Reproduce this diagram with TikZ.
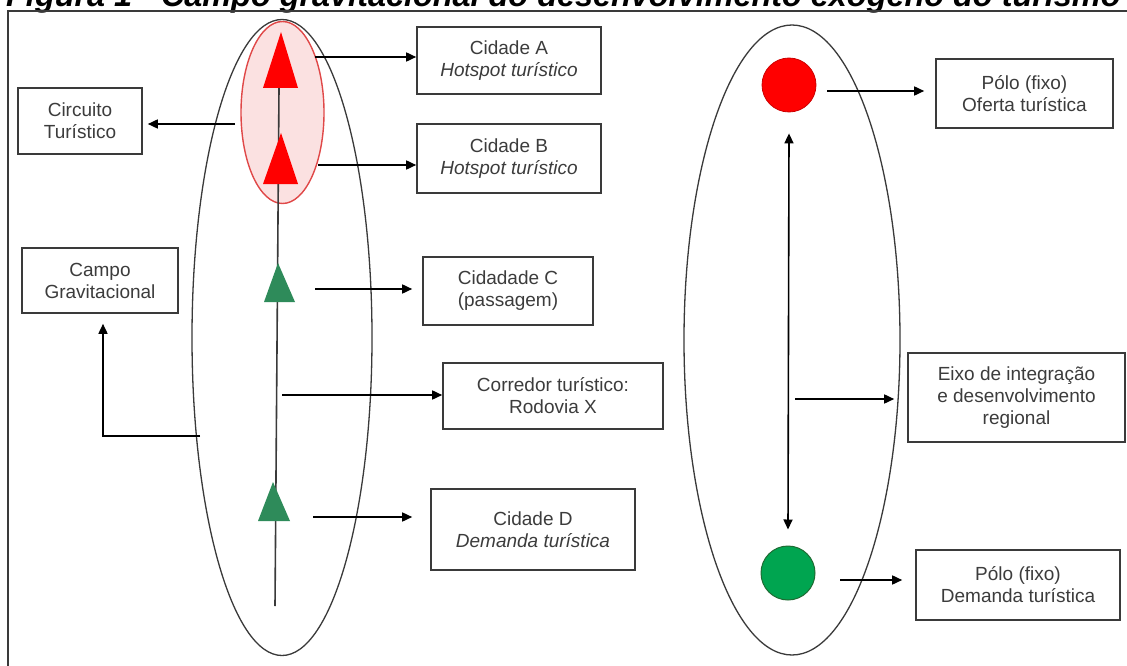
\documentclass[tikz,border=0pt]{standalone}
\usepackage{fontspec}
\setmainfont{Liberation Sans}
\usetikzlibrary{arrows.meta}
\definecolor{linegray}{HTML}{3A3A3A}
\definecolor{textgray}{HTML}{3C3C3C}
\definecolor{pinkfill}{HTML}{FBE1E1}
\definecolor{redline}{HTML}{E04848}
\definecolor{seagreen}{HTML}{2E8B5A}
\definecolor{polegreen}{HTML}{00A550}
\definecolor{poledark}{HTML}{1E6B32}
\tikzset{
  boxnode/.style={draw=linegray, line width=1.6pt, align=center, text=textgray,
    font=\fontsize{19}{22}\selectfont, inner sep=0pt},
  arr/.style={-{Triangle[length=10pt,width=9pt]}, line width=1.6pt, black},
  darr/.style={{Triangle[length=10pt,width=9pt]}-{Triangle[length=10pt,width=9pt]}, line width=1.6pt, black},
  field/.style={draw=linegray, line width=1.3pt},
  redtri/.style={fill=red, draw=none},
  greentri/.style={fill=seagreen, draw=none}
}
\begin{document}
\begin{tikzpicture}[x=1pt,y=-1pt]
\useasboundingbox (0,0) rectangle (1127,666);
\clip (0,0) rectangle (1127,666);
\fill[white] (0,0) rectangle (1127,666);

% title (cut off by the top edge)
\node[anchor=base west, inner sep=0pt, font=\fontsize{32.4}{34}\selectfont\bfseries\itshape] (title) at (6,7)
  {Figura 1 - Campo gravitacional do desenvolvimento exógeno do turismo};

% frame
\draw[linegray, line width=1.6pt] (8,700) -- (8,11) -- (1140,11);

% left field
\fill[pinkfill] (282.5,112.5) ellipse [x radius=41.5, y radius=91];
\draw[field] (282,337.5) ellipse [x radius=90, y radius=318];
\draw[redline, line width=1.4pt] (282.5,112.5) ellipse [x radius=41.5, y radius=91];

% road
\coordinate (roadtop) at (279,88);
\coordinate (roadbot) at (275,606);
\draw[linegray, line width=1.6pt] (roadtop) -- (roadbot);

% towns
\path[redtri] (281,32) -- (298,88) -- (263,88) -- cycle;
\path[redtri] (281,133) -- (298,184) -- (263,184) -- cycle;
\path[greentri] (278,263) -- (295,302) -- (264,302) -- cycle;
\path[greentri] (273,482) -- (290,521) -- (258,521) -- cycle;

% boxes left
\node[boxnode, minimum width=184, minimum height=67] (bA) at (509,60.5) {Cidade A\\\itshape Hotspot turístico};
\node[boxnode, minimum width=184, minimum height=69] (bB) at (509,158.5) {Cidade B\\\itshape Hotspot turístico};
\node[boxnode, minimum width=124, minimum height=66] (bCirc) at (80,121) {Circuito\\Turístico};
\node[boxnode, minimum width=156, minimum height=65] (bCampo) at (100,280.5) {Campo\\Gravitacional};
\node[boxnode, minimum width=170, minimum height=68] (bC) at (508,291) {Cidadade C\\(passagem)};
\node[boxnode, minimum width=220, minimum height=66] (bCorr) at (553,396) {Corredor turístico:\\Rodovia X};
\node[boxnode, minimum width=204, minimum height=81] (bD) at (533,529.5) {Cidade D\\\itshape Demanda turística};

% arrows left
\coordinate (sA) at (315,57);
\coordinate (sB) at (318,165);
\coordinate (sCirc) at (235,124);
\coordinate (sC) at (315,289);
\coordinate (sCorr) at (282,395);
\coordinate (sD) at (313,517);
\coordinate (sCampo) at (200,436);
\draw[arr] (sA) -- (sA -| bA.west);
\draw[arr] (sB) -- (sB -| bB.west);
\draw[arr, shorten >=5pt] (sCirc) -- (sCirc -| bCirc.east);
\draw[arr, shorten >=10pt] (sC) -- (sC -| bC.west);
\draw[arr] (sCorr) -- (sCorr -| bCorr.west);
\draw[arr, shorten >=18pt] (sD) -- (sD -| bD.west);
\draw[arr, shorten >=10pt] (sCampo) -- (103,436) -- (103,436 |- bCampo.south);

% right field
\draw[field] (792,340) ellipse [x radius=108, y radius=315];
\node[circle, fill=red, draw=red!80!black, line width=0.8pt, minimum size=54pt, inner sep=0pt] (pOf) at (789,85) {};
\node[circle, fill=polegreen, draw=poledark, line width=1pt, minimum size=54pt, inner sep=0pt] (pDem) at (788,573) {};
\draw[darr] ([yshift=-21pt]pOf.south) -- ([yshift=16pt]pDem.north);

\node[boxnode, minimum width=177, minimum height=69] (bOf) at (1024.5,93.5) {Pólo (fixo)\\Oferta turística};
\node[boxnode, minimum width=217, minimum height=89] (bEixo) at (1016.5,397.5) {Eixo de integração\\e desenvolvimento\\regional};
\node[boxnode, minimum width=204, minimum height=70] (bDem) at (1018,585) {Pólo (fixo)\\Demanda turística};

\coordinate (sOf) at (827,91);
\coordinate (sEixo) at (795,399);
\coordinate (sDem) at (840,580);
\draw[arr, shorten >=11pt] (sOf) -- (sOf -| bOf.west);
\draw[arr, shorten >=13pt] (sEixo) -- (sEixo -| bEixo.west);
\draw[arr, shorten >=13pt] (sDem) -- (sDem -| bDem.west);
\end{tikzpicture}
\end{document}
